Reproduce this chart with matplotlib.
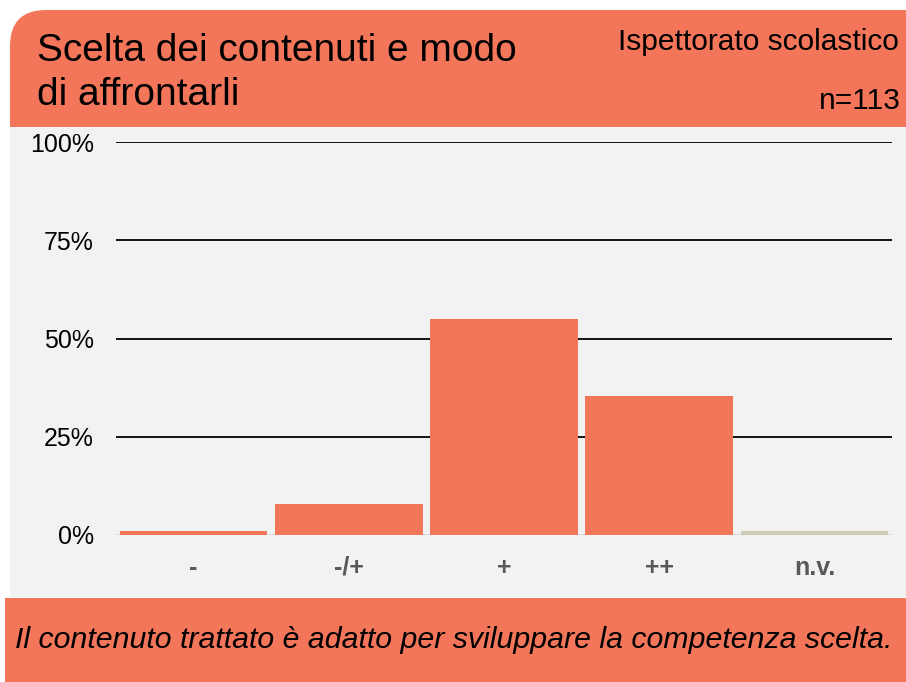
import matplotlib.pyplot as plt
from matplotlib.patches import Rectangle, FancyBboxPatch

plt.rcParams['font.family'] = ['Liberation Sans', 'DejaVu Sans']

categories = ['-', '-/+', '+', '++', 'n.v.']
percent = [0.9, 8.0, 54.9, 35.4, 0.9]
bar_colors = ['#F3755A', '#F3755A', '#F3755A', '#F3755A', '#CFCDB5']
yticks = [0, 25, 50, 75, 100]
ytick_labels = ['0%', '25%', '50%', '75%', '100%']

title_lines = ['Scelta dei contenuti e modo', 'di affrontarli']
subtitle = 'Ispettorato scolastico'
n_text = 'n=113'
footer = 'Il contenuto trattato è adatto per sviluppare la competenza scelta.'

orange = '#F3755A'
W, H = 906, 682
fig = plt.figure(figsize=(W / 100, H / 100), dpi=100)

# background layer in pixel coordinates
bg = fig.add_axes([0, 0, 1, 1])
bg.set_xlim(0, W)
bg.set_ylim(H, 0)
bg.axis('off')

# header with rounded top-left corner
bg.add_patch(FancyBboxPatch((10, 10), W - 10, 117, boxstyle='round,pad=0,rounding_size=36',
                            fc=orange, ec='none'))
bg.add_patch(Rectangle((60, 10), W - 60, 117, fc=orange, ec='none'))
bg.add_patch(Rectangle((10, 60), W - 10, 67, fc=orange, ec='none'))
# grey panel and footer
bg.add_patch(Rectangle((10, 127), W - 10, 470, fc='#F2F2F2', ec='none'))
bg.add_patch(Rectangle((5, 598), W - 5, H - 598, fc=orange, ec='none'))

bg.text(37, 61, title_lines[0], fontsize=28, va='baseline', ha='left')
bg.text(37, 105, title_lines[1], fontsize=28, va='baseline', ha='left')
bg.text(899, 50, subtitle, fontsize=21.5, va='baseline', ha='right')
bg.text(901, 109, n_text, fontsize=21.5, va='baseline', ha='right')
bg.text(15, 648, footer, fontsize=21.8, style='italic', va='baseline', ha='left')

# chart
ax = fig.add_axes([116 / W, 1 - 535 / H, (892 - 116) / W, (535 - 142) / H])
ax.patch.set_alpha(0)
x = range(len(categories))
ax.bar(x, percent, width=0.95, color=bar_colors, zorder=3)
ax.set_xlim(-0.5, 4.5)
ax.set_ylim(0, 100)
ax.set_yticks(yticks)
ax.set_yticklabels(ytick_labels, fontsize=18)
ax.set_xticks(list(x))
ax.set_xticklabels(categories, fontsize=18, fontweight='bold', color='#595959')
ax.tick_params(axis='both', length=0)
ax.tick_params(axis='y', pad=16)
ax.tick_params(axis='x', pad=15)
for v in yticks[1:]:
    ax.axhline(v, color='black', lw=1.3, zorder=2)
ax.axhline(0, color='#D9D9D9', lw=2, zorder=2)
for s in ax.spines.values():
    s.set_visible(False)

fig.savefig('out.png', dpi=100)
